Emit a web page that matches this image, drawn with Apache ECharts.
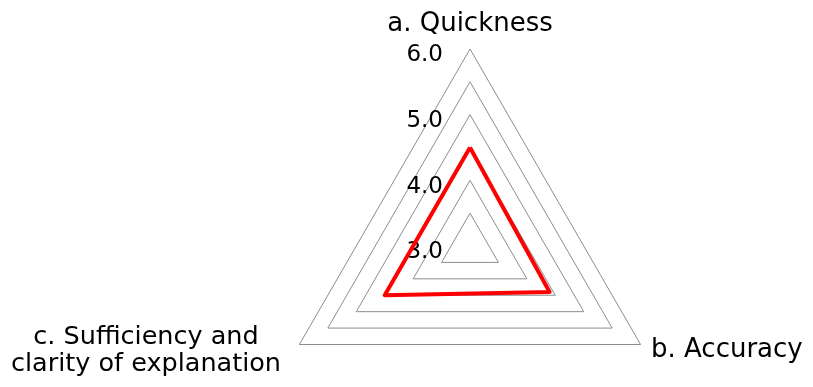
<!DOCTYPE html>
<html>
<head>
<meta charset="utf-8">
<script src="https://cdn.jsdelivr.net/npm/echarts@6/dist/echarts.min.js"></script>
<style>
  html, body { margin: 0; padding: 0; background: #fff; }
  #chart { width: 813px; height: 387px; }
</style>
</head>
<body>
<div id="chart"></div>
<script>
// 指标名称和数值（radar 逆时针排列，所以 c 在 b 前面）
var indicators = ['a. Quickness', 'c. Sufficiency and\nclarity of explanation', 'b. Accuracy'];
var scores = [4.5, 4.5, 4.4];
var axisMin = 3;
var axisMax = 6;

var chartDom = document.getElementById('chart');
var myChart = echarts.init(chartDom);

var option = {
  animation: false,
  radar: {
    center: [470, 246],
    radius: 197,
    startAngle: 90,
    splitNumber: 6,
    shape: 'polygon',
    nameGap: 12,
    axisName: {
      color: '#000',
      fontSize: 26,
      fontFamily: 'DejaVu Sans',
      formatter: function (name) {
        if (name.indexOf('\n') < 0) return name;
        return name.split('\n').map(function (s) { return '{c|' + s + '}'; }).join('\n');
      },
      rich: {
        c: { width: 286, align: 'center', fontSize: 25.5, fontFamily: 'DejaVu Sans', color: '#000', lineHeight: 27 }
      }
    },
    axisLine: { show: false },
    axisTick: { show: false },
    splitArea: { show: false },
    splitLine: { lineStyle: { color: '#8c8c8c', width: 1 } },
    indicator: indicators.map(function (n, i) {
      var item = { name: n, min: axisMin, max: axisMax };
      if (i === 0) {
        item.axisLabel = {
          show: true,
          color: '#000',
          fontSize: 23,
          fontFamily: 'DejaVu Sans',
          margin: 27,
          formatter: function (v) { return v % 1 === 0 ? '{t|' + v.toFixed(1) + '}' : ''; },
          rich: {
            t: { fontSize: 23, fontFamily: 'DejaVu Sans', color: '#000', padding: [13, 0, 0, 0] }
          }
        };
      }
      return item;
    })
  },
  series: [{
    type: 'radar',
    symbol: 'none',
    lineStyle: { color: '#ff0000', width: 4 },
    data: [{ value: scores }]
  }]
};

option && myChart.setOption(option);
</script>
</body>
</html>
